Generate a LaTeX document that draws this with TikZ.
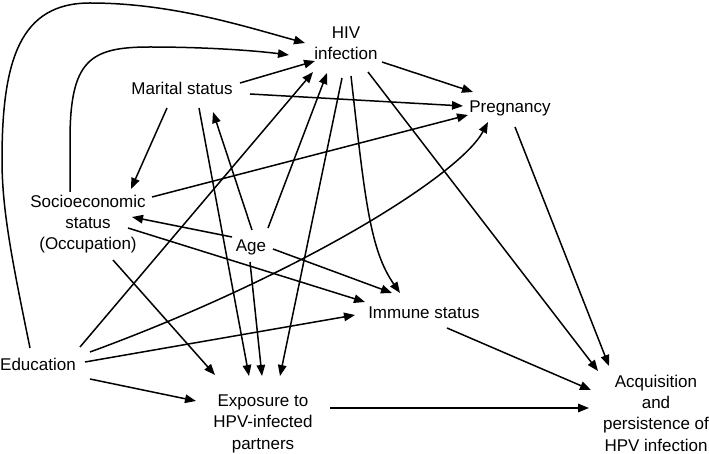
\documentclass[tikz,border=0pt]{standalone}
\usepackage{fontspec}
\setmainfont{Liberation Sans}
\usetikzlibrary{arrows.meta}
\tikzset{
  lbl/.style={font=\fontsize{17}{21.3}\selectfont, align=center, inner sep=0pt, anchor=base},
  conn/.style={-{Triangle[length=11pt,width=8.5pt]}, line width=1.5pt, black}
}
\begin{document}
\begin{tikzpicture}[x=1pt,y=-1pt]
\useasboundingbox (0,0) rectangle (709,454);
\node[lbl] (hiv) at (346,60) {HIV\\infection};
\node[lbl] (mar) at (182,95) {Marital status};
\node[lbl] (preg) at (510,113) {Pregnancy};
\node[lbl] (soc) at (88,250) {Socioeconomic\\status\\(Occupation)};
\node[lbl] (age) at (251,252) {Age};
\node[lbl] (imm) at (424,318) {Immune status};
\node[lbl] (edu) at (38,370) {Education};
\node[lbl] (exp) at (263,449) {Exposure to\\HPV-infected\\partners};
\node[lbl] (acq) at (656,451) {Acquisition\\and\\persistence of\\HPV infection};

% curved long arrows into HIV
\draw[conn] ([shift={(-8,-22)}]edu.base) .. controls (12,260) and (2,210) .. (2,160)
  .. controls (2,60) and (20,3) .. (90,3) .. controls (170,3) and (240,25) .. ([shift={(-41,-17)}]hiv.base);
\draw[conn] ([shift={(-18,-58)}]soc.base) -- (70,140) .. controls (70,60) and (90,47) .. (150,47)
  .. controls (200,47) and (250,50) .. ([shift={(-57,-5)}]hiv.base);

\draw[conn] ([shift={(58,-12)}]mar.base) -- ([shift={(-31,1)}]hiv.base);
\draw[conn] ([shift={(68,-1)}]mar.base) -- ([shift={(-47,-7)}]preg.base);
\draw[conn] ([shift={(-15,13)}]mar.base) -- ([shift={(43,-61)}]soc.base);
\draw[conn] ([shift={(17,13)}]mar.base) -- ([shift={(-14,-73)}]exp.base);
\draw[conn] ([shift={(1,-22)}]age.base) -- ([shift={(31,17)}]mar.base);
\draw[conn] ([shift={(17,-24)}]age.base) -- ([shift={(-19,13)}]hiv.base);
\draw[conn] ([shift={(42,-23)}]edu.base) -- ([shift={(-33,12)}]hiv.base);
\draw[conn] ([shift={(64,-53)}]soc.base) -- ([shift={(-42,2)}]preg.base);
\draw[conn] ([shift={(52,-18)}]edu.base) .. controls (300,275) and (460,175) .. ([shift={(-22,9)}]preg.base);
\draw[conn] ([shift={(5,14)}]preg.base) -- ([shift={(-47,-85)}]acq.base);
\draw[conn] ([shift={(-19,-15)}]age.base) -- ([shift={(44,-33)}]soc.base);
\draw[conn] ([shift={(22,-3)}]age.base) -- ([shift={(-32,-25)}]imm.base);
\draw[conn] ([shift={(40,-22)}]soc.base) -- ([shift={(-59,-16)}]imm.base);
\draw[conn] ([shift={(47,-8)}]edu.base) -- ([shift={(-69,-3)}]imm.base);
\draw[conn] ([shift={(-1,10)}]age.base) -- ([shift={(-1,-73)}]exp.base);
\draw[conn] ([shift={(25,10)}]soc.base) -- ([shift={(-48,-74)}]exp.base);
\draw[conn] ([shift={(52,9)}]edu.base) -- ([shift={(-67,-48)}]exp.base);
\draw[conn] ([shift={(67,-41)}]exp.base) -- ([shift={(-67,-43)}]acq.base);
\draw[conn] ([shift={(23,10)}]imm.base) -- ([shift={(-65,-61)}]acq.base);
\draw[conn] ([shift={(22,12)}]hiv.base) -- ([shift={(-58,-80)}]acq.base);
\draw[conn] ([shift={(36,2)}]hiv.base) -- ([shift={(-37,-21)}]preg.base);
\draw[conn] ([shift={(-4,18)}]hiv.base) -- ([shift={(17,-73)}]exp.base);
\draw[conn] ([shift={(5,16)}]hiv.base) .. controls (365,200) and (370,250) .. ([shift={(-24,-25)}]imm.base);
\end{tikzpicture}
\end{document}
